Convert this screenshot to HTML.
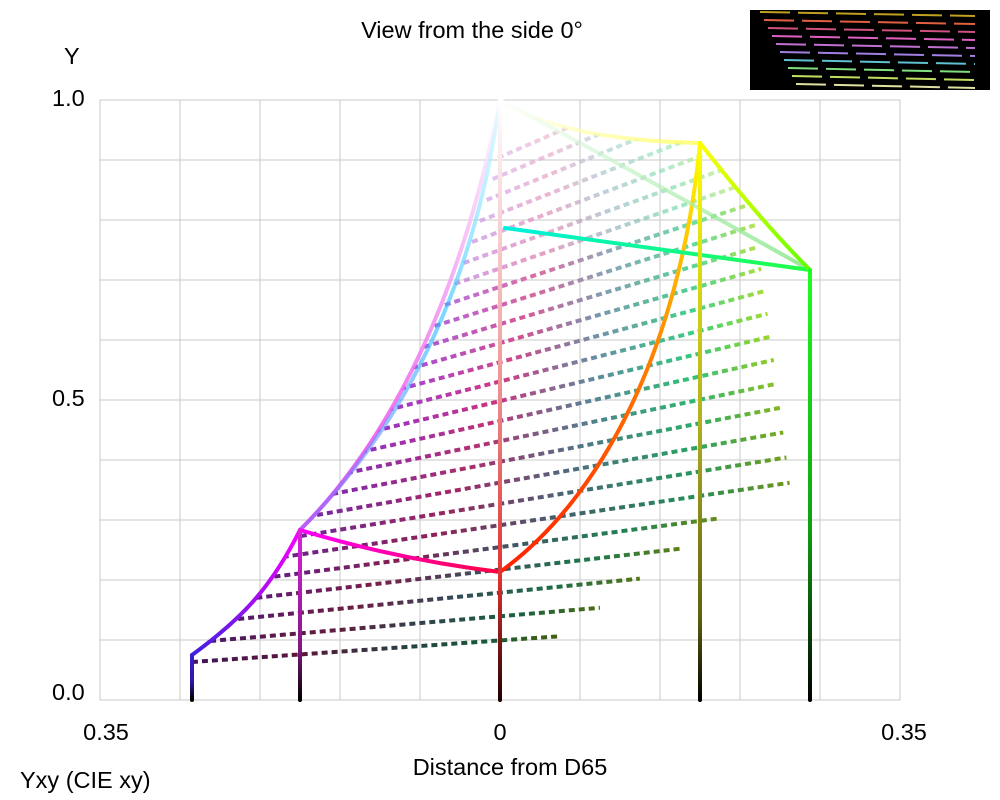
<!DOCTYPE html>
<html><head><meta charset="utf-8"><style>
html,body{margin:0;padding:0;background:#fff;}
svg{display:block;font-family:"Liberation Sans",Arial,sans-serif;}
</style></head><body>
<svg id="s" width="1000" height="800" viewBox="0 0 1000 800">
<defs>
<clipPath id="gam"><path d="M192,700 L192,655 C240,620 270,590 300,530 C390,440 460,300 500,100 Q560,140 700,143 Q760,220 810,270 L810,700 Z"/></clipPath>
<linearGradient id="gBlue" gradientUnits="userSpaceOnUse" x1="0" y1="655" x2="0" y2="700"><stop offset="0" stop-color="#3a20d0"/><stop offset="0.6" stop-color="#2a18a0"/><stop offset="1" stop-color="#000"/></linearGradient>
<linearGradient id="gMag" gradientUnits="userSpaceOnUse" x1="0" y1="530" x2="0" y2="700"><stop offset="0" stop-color="#e020e0"/><stop offset="0.7" stop-color="#801880"/><stop offset="1" stop-color="#000"/></linearGradient>
<linearGradient id="gWhite" gradientUnits="userSpaceOnUse" x1="0" y1="100" x2="0" y2="700"><stop offset="0" stop-color="#fff"/><stop offset="0.4" stop-color="#f0a8a8"/><stop offset="0.8" stop-color="#e03030"/><stop offset="1" stop-color="#200"/></linearGradient>
<linearGradient id="gYel" gradientUnits="userSpaceOnUse" x1="0" y1="143" x2="0" y2="700"><stop offset="0" stop-color="#ffff00"/><stop offset="0.5" stop-color="#b0b020"/><stop offset="0.85" stop-color="#606010"/><stop offset="1" stop-color="#000"/></linearGradient>
<linearGradient id="gGrn" gradientUnits="userSpaceOnUse" x1="0" y1="270" x2="0" y2="700"><stop offset="0" stop-color="#20ff20"/><stop offset="0.6" stop-color="#10a010"/><stop offset="1" stop-color="#000"/></linearGradient>
<linearGradient id="gMW" gradientUnits="userSpaceOnUse" x1="0" y1="530" x2="0" y2="100"><stop offset="0" stop-color="#f020f0"/><stop offset="0.5" stop-color="#f090f0"/><stop offset="1" stop-color="#fff"/></linearGradient>
<linearGradient id="gWY" gradientUnits="userSpaceOnUse" x1="500" y1="0" x2="700" y2="0"><stop offset="0" stop-color="#fff"/><stop offset="1" stop-color="#ffff40"/></linearGradient>
<linearGradient id="gWG" gradientUnits="userSpaceOnUse" x1="500" y1="0" x2="810" y2="0"><stop offset="0" stop-color="#fff"/><stop offset="1" stop-color="#70e070"/></linearGradient>
<linearGradient id="gMR" gradientUnits="userSpaceOnUse" x1="300" y1="0" x2="500" y2="0"><stop offset="0" stop-color="#ff00ff"/><stop offset="1" stop-color="#ff0040"/></linearGradient>
<linearGradient id="gRY" gradientUnits="userSpaceOnUse" x1="0" y1="572" x2="0" y2="143"><stop offset="0" stop-color="#ff2000"/><stop offset="0.5" stop-color="#ff8000"/><stop offset="1" stop-color="#ffff00"/></linearGradient>
<linearGradient id="gBC" gradientUnits="userSpaceOnUse" x1="0" y1="530" x2="0" y2="100"><stop offset="0" stop-color="#9070ff"/><stop offset="0.5" stop-color="#20c0ff"/><stop offset="1" stop-color="#e0ffff"/></linearGradient>
<linearGradient id="gCG" gradientUnits="userSpaceOnUse" x1="505" y1="0" x2="810" y2="0"><stop offset="0" stop-color="#00f0e0"/><stop offset="1" stop-color="#20ff40"/></linearGradient>
<linearGradient id="gYG" gradientUnits="userSpaceOnUse" x1="700" y1="0" x2="810" y2="0"><stop offset="0" stop-color="#ffff00"/><stop offset="1" stop-color="#60ff00"/></linearGradient>
<linearGradient id="gBM" gradientUnits="userSpaceOnUse" x1="192" y1="655" x2="300" y2="530"><stop offset="0" stop-color="#4020e0"/><stop offset="1" stop-color="#ff00ff"/></linearGradient>
</defs>
<g stroke="#c8c8c8" stroke-width="1">
<line x1="100" y1="100" x2="900" y2="100"/><line x1="100" y1="160" x2="900" y2="160"/><line x1="100" y1="220" x2="900" y2="220"/><line x1="100" y1="280" x2="900" y2="280"/><line x1="100" y1="340" x2="900" y2="340"/><line x1="100" y1="400" x2="900" y2="400"/><line x1="100" y1="460" x2="900" y2="460"/><line x1="100" y1="520" x2="900" y2="520"/><line x1="100" y1="580" x2="900" y2="580"/><line x1="100" y1="640" x2="900" y2="640"/><line x1="100" y1="700" x2="900" y2="700"/>
<line x1="100" y1="100" x2="100" y2="700"/><line x1="180" y1="100" x2="180" y2="700"/><line x1="260" y1="100" x2="260" y2="700"/><line x1="340" y1="100" x2="340" y2="700"/><line x1="420" y1="100" x2="420" y2="700"/><line x1="500" y1="100" x2="500" y2="700"/><line x1="580" y1="100" x2="580" y2="700"/><line x1="660" y1="100" x2="660" y2="700"/><line x1="740" y1="100" x2="740" y2="700"/><line x1="820" y1="100" x2="820" y2="700"/><line x1="900" y1="100" x2="900" y2="700"/>
</g>
<g id="rows" clip-path="url(#gam)"></g>
<g fill="none" stroke-width="4" stroke-linecap="round">
<path d="M192,655 C240,620 270,590 300,530" stroke="url(#gBM)"/>
<path d="M300,530 C390,440 460,300 500,100" stroke="url(#gMW)" opacity="0.85"/>
<path d="M300,530 C380,450 470,320 500,100" stroke="url(#gBC)" opacity="0.6"/>
<path d="M300,530 Q400,560 500,572" stroke="url(#gMR)"/>
<path d="M500,572 C600,500 680,350 700,143" stroke="url(#gRY)"/>
<path d="M500,100 Q560,140 700,143" stroke="url(#gWY)" opacity="0.7"/>
<path d="M500,100 Q650,180 810,270" stroke="url(#gWG)" opacity="0.7"/>
<path d="M505,228 L810,270" stroke="url(#gCG)"/>
<path d="M700,143 Q760,220 810,270" stroke="url(#gYG)"/>
<line x1="192" y1="655" x2="192" y2="700" stroke="url(#gBlue)"/>
<line x1="300" y1="530" x2="300" y2="700" stroke="url(#gMag)"/>
<line x1="500" y1="100" x2="500" y2="700" stroke="url(#gWhite)"/>
<line x1="700" y1="143" x2="700" y2="700" stroke="url(#gYel)"/>
<line x1="810" y1="270" x2="810" y2="700" stroke="url(#gGrn)"/>
</g>
<g font-size="23.5" fill="#000">
<text x="472" y="38" text-anchor="middle">View from the side 0°</text>
<text x="64" y="64">Y</text>
<text x="52" y="106">1.0</text>
<text x="52" y="406">0.5</text>
<text x="52" y="700">0.0</text>
<text x="106" y="740" text-anchor="middle">0.35</text>
<text x="500" y="740" text-anchor="middle">0</text>
<text x="904" y="740" text-anchor="middle">0.35</text>
<text x="510" y="775" text-anchor="middle">Distance from D65</text>
<text x="20" y="788">Yxy (CIE xy)</text>
</g>
<rect x="750" y="10" width="240" height="80" fill="#000"/>
<g id="thumb" stroke-width="2"></g>
</svg>
<script>
var ns="http://www.w3.org/2000/svg",rows=document.getElementById('rows'),defs=document.querySelector('defs');
function lc(y){
 if(y>=530){return 192+(655-y)/125*108;}
 var t=(530-y)/430; return 300+200*(1-Math.pow(1-t,1.6));}
var i=0;
for(var y=662;y>=140;y-=21){
 var x1=lc(y)+6;
 var f=(662-y)/522;
 var x2;
 if(y>560) x2=560+(662-y)*1.9;
 else if(y>300) x2=790-(560-y)*0.15;
 else x2=750-(300-y)*0.6;
 x2=Math.min(x2,795);
 var slope=-(0.07+f*0.38);
 var y2=y+slope*(x2-x1);
 var L=22+f*62;
 var g=document.createElementNS(ns,'linearGradient');g.id='r'+i;
 g.setAttribute('gradientUnits','userSpaceOnUse');g.setAttribute('x1',x1);g.setAttribute('x2',x2);g.setAttribute('y1',y);g.setAttribute('y2',y2);
 [[0,280,60],[0.3,330,60],[0.55,200,25],[0.8,150,60],[1,80,70]].forEach(function(s){var st=document.createElementNS(ns,'stop');st.setAttribute('offset',s[0]);st.setAttribute('stop-color','hsl('+s[1]+','+s[2]+'%,'+L+'%)');g.appendChild(st);});
 defs.appendChild(g);
 var l=document.createElementNS(ns,'line');
 l.setAttribute('x1',x1);l.setAttribute('y1',y);l.setAttribute('x2',x2);l.setAttribute('y2',y2);
 l.setAttribute('stroke','url(#r'+i+')');l.setAttribute('stroke-width','4');l.setAttribute('stroke-dasharray','6 4');
 if(y<300) l.setAttribute('opacity','0.7');
 rows.appendChild(l);
 i++;
}
var th=document.getElementById('thumb');
var cols=['#c0a020','#e06040','#d05080','#e060c0','#c070d0','#a080e0','#60c0d0','#80e080','#c0e060','#e0e0a0'];
for(var k=0;k<10;k++){var a=document.createElementNS(ns,'line');var yy=12+k*8;
 a.setAttribute('x1',760+k*4);a.setAttribute('y1',yy);a.setAttribute('x2',975);a.setAttribute('y2',yy+4);
 a.setAttribute('stroke',cols[k]);a.setAttribute('stroke-dasharray','30 8');th.appendChild(a);}
</script>
</body></html>
